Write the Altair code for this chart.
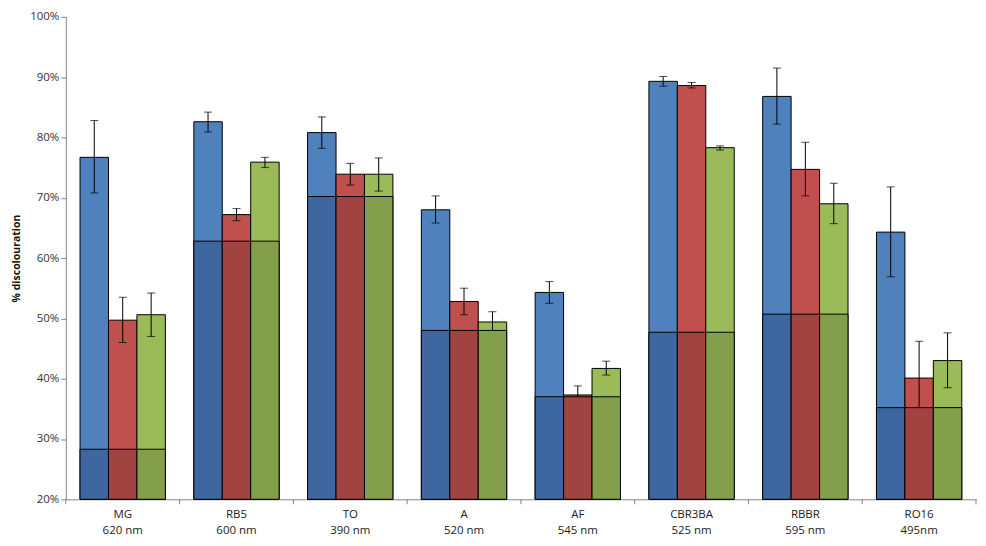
import altair as alt
import pandas as pd

categories = ["MG|620 nm", "RB5|600 nm", "TO|390 nm", "A|520 nm", "AF|545 nm",
              "CBR3BA|525 nm", "RBBR|595 nm", "RO16|495nm"]
series = ["S1", "S2", "S3"]

# top of bar (%)
top_s1 = [76.7, 82.6, 80.8, 68.0, 54.3, 89.3, 86.8, 64.3]
top_s2 = [49.7, 67.2, 73.9, 52.8, 37.3, 88.6, 74.7, 40.1]
top_s3 = [50.6, 75.9, 73.9, 49.4, 41.7, 78.3, 69.0, 43.0]
# error bar ends (%)
hi_s1 = [82.8, 84.2, 83.4, 70.3, 56.1, 90.1, 91.5, 71.8]
lo_s1 = [70.8, 80.9, 78.2, 65.8, 52.5, 88.5, 82.2, 56.9]
hi_s2 = [53.5, 68.2, 75.7, 55.0, 38.8, 89.1, 79.2, 46.2]
lo_s2 = [46.0, 66.2, 72.1, 50.6, 36.0, 88.2, 70.3, 34.2]
hi_s3 = [54.2, 76.7, 76.6, 51.1, 42.9, 78.6, 72.4, 47.6]
lo_s3 = [47.0, 75.0, 71.1, 47.8, 40.6, 77.9, 65.7, 38.5]
# dotted base portion (%)
base = [28.3, 62.8, 70.2, 48.0, 37.0, 47.7, 50.7, 35.2]

colors = ["#4F81BD", "#C0504D", "#9BBB59"]
dark_colors = ["#3D679E", "#A04341", "#839F4B"]

rows = []
for i, c in enumerate(categories):
    for s, t, h, l in zip(series, [top_s1, top_s2, top_s3], [hi_s1, hi_s2, hi_s3], [lo_s1, lo_s2, lo_s3]):
        rows.append({"cat": c, "series": s, "top": t[i] / 100, "hi": h[i] / 100,
                     "lo": l[i] / 100, "base": base[i] / 100, "floor": 0.2})
df = pd.DataFrame(rows)

W, H = 913, 484

xscale = alt.Scale(paddingInner=0, paddingOuter=0)
xaxis = alt.Axis(title=None, ticks=False, labelAngle=0,
                 labelExpr="split(datum.value, '|')",
                 labelFont="Open Sans", labelFontSize=11.5, labelColor="#222222",
                 labelPadding=9, labelLineHeight=16, labelBaseline="top",
                 domainColor="#868686")
yscale = alt.Scale(domain=[0.2, 1.0], zero=False, nice=False)
yaxis = alt.Axis(format=".0%", values=[0.2, 0.3, 0.4, 0.5, 0.6, 0.7, 0.8, 0.9, 1.0],
                 title="% discolouration", titleFont="Open Sans", titleFontSize=10.5,
                 titleFontWeight="bold", titleColor="#111111", titlePadding=8,
                 labelFont="Open Sans", labelFontSize=11.5, labelColor="#333333",
                 domainColor="#868686", tickColor="#868686", tickSize=5,
                 grid=False)

xenc = alt.X("cat:N", sort=categories, scale=xscale, axis=xaxis)
xoff = alt.XOffset("series:N", sort=series,
                   scale=alt.Scale(paddingOuter=0.5, paddingInner=0))


def Y(field):
    return alt.Y(field, scale=yscale, axis=yaxis)


base_chart = alt.Chart(df)

bars = base_chart.mark_bar(stroke="black", strokeWidth=1).encode(
    x=xenc, xOffset=xoff, y=Y("top:Q"), y2="floor:Q",
    color=alt.Color("series:N", scale=alt.Scale(domain=series, range=colors), legend=None),
)

err = base_chart.mark_rule(color="black", strokeWidth=1).encode(
    x=xenc, xOffset=xoff, y=Y("lo:Q"), y2="hi:Q")
cap_hi = base_chart.mark_tick(color="black", size=8, thickness=1).encode(
    x=xenc, xOffset=xoff, y=Y("hi:Q"))
cap_lo = base_chart.mark_tick(color="black", size=8, thickness=1).encode(
    x=xenc, xOffset=xoff, y=Y("lo:Q"))

hatch = base_chart.mark_bar(stroke="black", strokeWidth=1).encode(
    x=xenc, xOffset=xoff, y=Y("base:Q"), y2="floor:Q",
    color=alt.Color("series:N", scale=alt.Scale(domain=series, range=dark_colors), legend=None),
)

tick_df = pd.DataFrame({"cat": categories})
xticks = alt.Chart(tick_df).mark_rule(color="#868686", strokeWidth=1).encode(
    x=alt.X("cat:N", sort=categories, bandPosition=0, scale=xscale, axis=xaxis),
    y=alt.value(H), y2=alt.value(H + 5))
end_tick = alt.Chart(pd.DataFrame({"a": [0]})).mark_rule(color="#868686", strokeWidth=1).encode(
    x=alt.value(W), y=alt.value(H), y2=alt.value(H + 5))

chart = alt.layer(bars, err, cap_hi, cap_lo, hatch, xticks, end_tick).resolve_scale(
    color="independent"
).properties(
    width=W, height=H,
    background="white",
    padding={"left": 58, "top": 8, "right": 2, "bottom": 40},
    autosize=alt.AutoSizeParams(type="none"),
).configure_view(strokeWidth=0, stroke="transparent")

chart.save("out.html", embed_options={"renderer": "svg", "actions": False})
